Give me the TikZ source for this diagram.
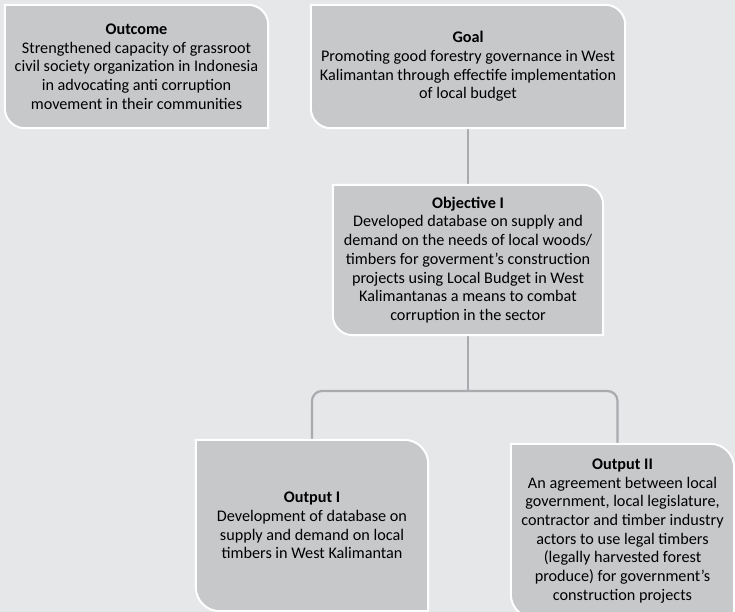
\documentclass[tikz,border=0pt]{standalone}
\usepackage{fontspec}
\setmainfont{Carlito}
\usetikzlibrary{backgrounds}

\definecolor{canvas}{HTML}{E6E7E8}
\definecolor{panelfill}{HTML}{C7C8CA}
\definecolor{linkgray}{HTML}{A9ABAE}

\tikzset{
  panel/.style={inner sep=0pt, align=center, text=black,
    font=\fontsize{16.2}{18.7}\selectfont},
  panelshape/.style={fill=panelfill, draw=white, line width=2pt},
  link/.style={draw=linkgray, line width=2.2pt},
}

% leaf-shaped panel: rounded top-right and bottom-left corners
\newcommand\leafpanel[2][20]{%
  \path[panelshape] (#2.north west)
    -- ([xshift=-#1pt]#2.north east) arc[start angle=90, end angle=0, radius=#1pt]
    -- (#2.south east)
    -- ([xshift=#1pt]#2.south west) arc[start angle=270, end angle=180, radius=#1pt]
    -- cycle;}

\begin{document}
\begin{tikzpicture}[x=1pt, y=1pt]
  \useasboundingbox (0,0) rectangle (735,-612);

  % text panels
  \node[panel, minimum width=263pt, minimum height=123pt] (outcome) at (136.5,-66.5)
    {\textbf{Outcome}\\Strengthened capacity of grassroot\\civil society organization in Indonesia\\in advocating anti corruption\\movement in their communities};
  \node[panel, minimum width=314pt, minimum height=123pt] (goal) at (468,-66.5)
    {\textbf{Goal}\\Promoting good forestry governance in West\\Kalimantan through effectife implementation\\of local budget};
  \node[panel, minimum width=270pt, minimum height=150pt] (objective) at (468,-260)
    {\textbf{Objective I}\\Developed database on supply and\\demand on the needs of local woods/\\timbers for goverment’s construction\\projects using Local Budget in West\\Kalimantanas a means to combat\\corruption in the sector};
  \node[panel, minimum width=232pt, minimum height=171pt] (outputA) at (312,-525.5)
    {\textbf{Output I}\\Development of database on\\supply and demand on local\\timbers in West Kalimantan};
  \node[panel, minimum width=223pt, minimum height=174pt] (outputB) at (622.5,-531)
    {\textbf{Output II}\\An agreement between local\\government, local legislature,\\contractor and timber industry\\actors to use legal timbers\\(legally harvested forest\\produce) for government’s\\construction projects};

  \coordinate (split) at (468,-391);

  \begin{scope}[on background layer]
    \fill[canvas] (0,0) rectangle (735,-612);
    % connectors
    \draw[link] (goal) -- (objective);
    \draw[link] (objective.south) -- (split);
    \draw[link, rounded corners=10pt] (split) -| (outputA.north);
    \draw[link, rounded corners=10pt] (split) -| ([xshift=-5pt]outputB.north);
    % panel shapes
    \leafpanel{outcome}
    \leafpanel{goal}
    \leafpanel{objective}
    \leafpanel[24]{outputA}
    \leafpanel[24]{outputB}
  \end{scope}
\end{tikzpicture}
\end{document}
